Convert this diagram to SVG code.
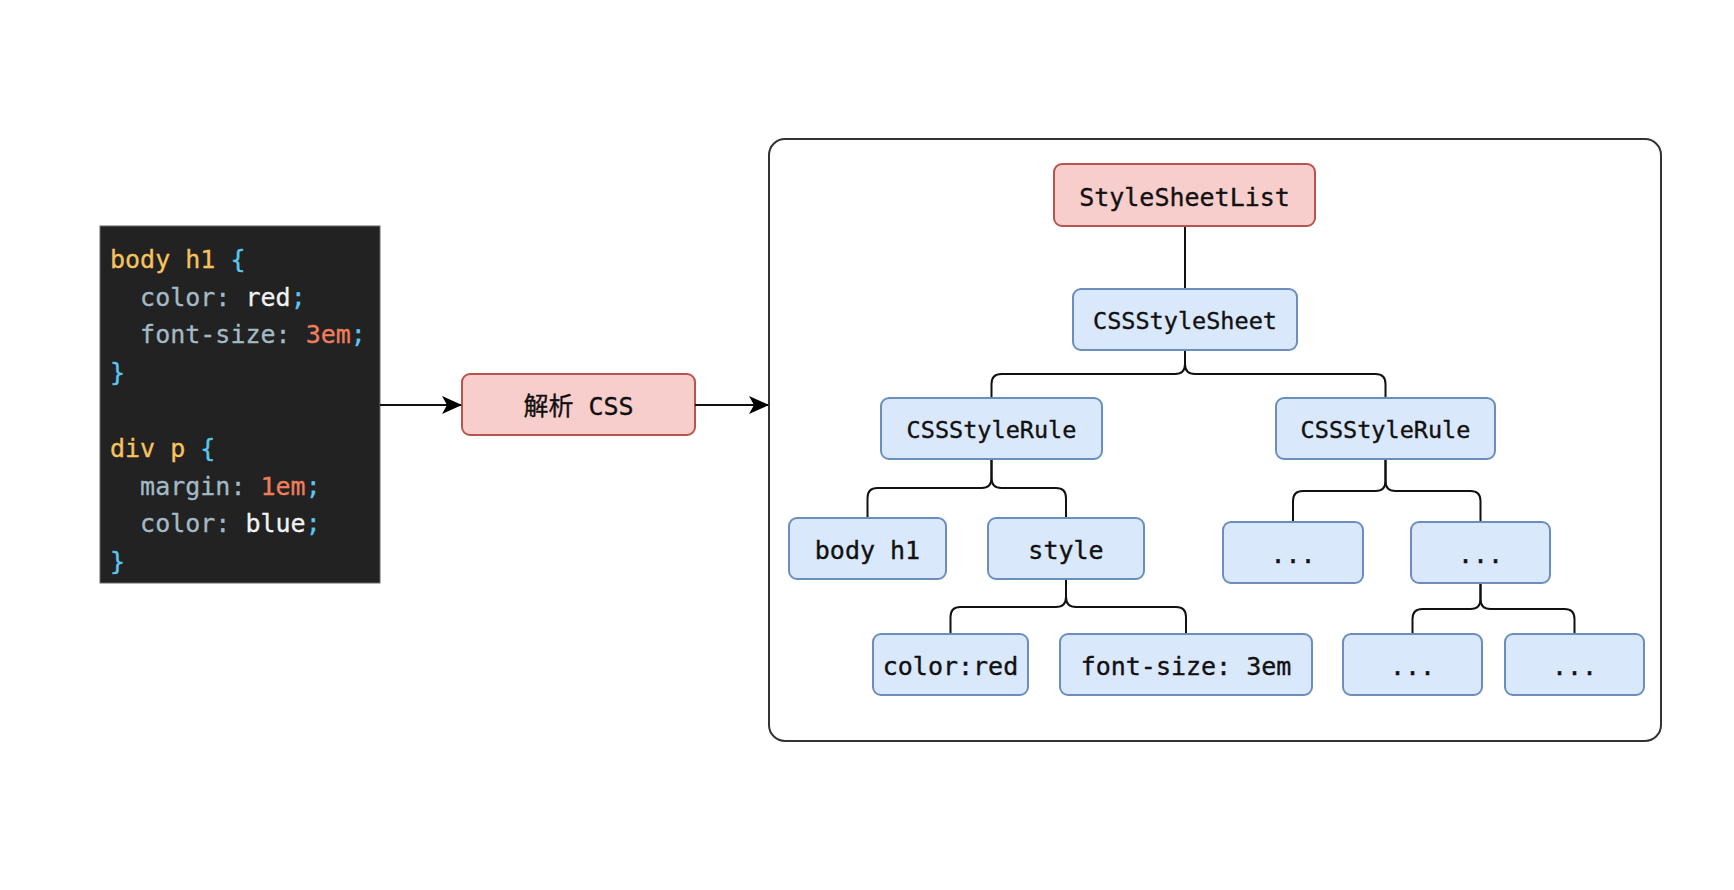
<svg xmlns="http://www.w3.org/2000/svg" width="1734" height="890" viewBox="0 0 1734 890">
<defs>
<marker id="arr" viewBox="0 0 20 18" refX="19" refY="9" markerWidth="20" markerHeight="18" markerUnits="userSpaceOnUse" orient="auto">
<path d="M0,0 L20,9 L0,18 L5,9 Z" fill="#000"/>
</marker>
<style>
.blue{fill:#dae8fc;stroke:#6c8ebf;stroke-width:2}
.red{fill:#f8cecc;stroke:#b85450;stroke-width:2}
.t{font-family:"DejaVu Sans Mono","Liberation Mono","Noto Sans CJK SC",monospace;fill:#111;stroke:#111;stroke-width:0.35;text-anchor:middle}
.t25{font-size:25px}
.t23{font-size:23.5px}
.code{font-family:"DejaVu Sans Mono","Liberation Mono",monospace;font-size:25px;white-space:pre;stroke-width:0.3}
.sel{fill:#f6c35f;stroke:#f6c35f}
.br{fill:#5cc6f0;stroke:#5cc6f0}
.prop{fill:#a3bac6;stroke:#a3bac6}
.val{fill:#f2f2f2;stroke:#f2f2f2}
.num{fill:#ee7e5c;stroke:#ee7e5c}
.edge{fill:none;stroke:#111;stroke-width:2}
</style>
</defs>
<rect width="1734" height="890" fill="#fff"/>

<g id="code">
<rect x="100" y="226" width="280" height="357" fill="#222222" stroke="#666" stroke-width="1"/>
<text class="code" x="110" y="268"><tspan class="sel">body h1 </tspan><tspan class="br">{</tspan></text>
<text class="code" x="110" y="306"><tspan class="prop">  color: </tspan><tspan class="val">red</tspan><tspan class="br">;</tspan></text>
<text class="code" x="110" y="343"><tspan class="prop">  font-size: </tspan><tspan class="num">3em</tspan><tspan class="br">;</tspan></text>
<text class="code br" x="110" y="381">}</text>
<text class="code" x="110" y="457"><tspan class="sel">div p </tspan><tspan class="br">{</tspan></text>
<text class="code" x="110" y="495"><tspan class="prop">  margin: </tspan><tspan class="num">1em</tspan><tspan class="br">;</tspan></text>
<text class="code" x="110" y="532"><tspan class="prop">  color: </tspan><tspan class="val">blue</tspan><tspan class="br">;</tspan></text>
<text class="code br" x="110" y="570">}</text>
</g>

<g id="parse">
<rect class="red" x="462" y="374" width="233" height="61" rx="8"/>
<text class="t t25" x="578.5" y="415">解析 CSS</text>
</g>

<g id="container">
<rect x="769" y="139" width="892" height="602" rx="16" fill="#fff" stroke="#333" stroke-width="2"/>
</g>

<g id="connectors">
<path class="edge" d="M380,405 H461" marker-end="url(#arr)"/>
<path class="edge" d="M695,405 H768" marker-end="url(#arr)"/>
<path class="edge" d="M1185,226 V289"/>
<path class="edge" d="M1185,350 V364 Q1185,374 1175,374 H1001.5 Q991.5,374 991.5,384 V398"/>
<path class="edge" d="M1185,350 V364 Q1185,374 1195,374 H1375.5 Q1385.5,374 1385.5,384 V398"/>
<path class="edge" d="M991.5,459 V478 Q991.5,488 981.5,488 H877.5 Q867.5,488 867.5,498 V518"/>
<path class="edge" d="M991.5,459 V478 Q991.5,488 1001.5,488 H1056 Q1066,488 1066,498 V518"/>
<path class="edge" d="M1385.5,459 V481 Q1385.5,491 1375.5,491 H1303 Q1293,491 1293,501 V522"/>
<path class="edge" d="M1385.5,459 V481 Q1385.5,491 1395.5,491 H1470.5 Q1480.5,491 1480.5,501 V522"/>
<path class="edge" d="M1066,579 V597 Q1066,607 1056,607 H960.5 Q950.5,607 950.5,617 V634"/>
<path class="edge" d="M1066,579 V597 Q1066,607 1076,607 H1176 Q1186,607 1186,617 V634"/>
<path class="edge" d="M1480.5,583 V599 Q1480.5,609 1470.5,609 H1422.5 Q1412.5,609 1412.5,619 V634"/>
<path class="edge" d="M1480.5,583 V599 Q1480.5,609 1490.5,609 H1564.5 Q1574.5,609 1574.5,619 V634"/>
</g>

<g id="n-stylesheetlist">
<rect class="red" x="1054" y="164" width="261" height="62" rx="8"/>
<text class="t t25" x="1184.5" y="206">StyleSheetList</text>
</g>
<g id="n-cssstylesheet">
<rect class="blue" x="1073" y="289" width="224" height="61" rx="8"/>
<text class="t t23" x="1185" y="329">CSSStyleSheet</text>
</g>
<g id="n-rule-left">
<rect class="blue" x="881" y="398" width="221" height="61" rx="8"/>
<text class="t t23" x="991.5" y="438">CSSStyleRule</text>
</g>
<g id="n-rule-right">
<rect class="blue" x="1276" y="398" width="219" height="61" rx="8"/>
<text class="t t23" x="1385.5" y="438">CSSStyleRule</text>
</g>
<g id="n-bodyh1">
<rect class="blue" x="789" y="518" width="157" height="61" rx="8"/>
<text class="t t25" x="867.5" y="559">body h1</text>
</g>
<g id="n-style">
<rect class="blue" x="988" y="518" width="156" height="61" rx="8"/>
<text class="t t25" x="1066" y="559">style</text>
</g>
<g id="n-dots1">
<rect class="blue" x="1223" y="522" width="140" height="61" rx="8"/>
<text class="t t25" x="1293" y="563">...</text>
</g>
<g id="n-dots2">
<rect class="blue" x="1411" y="522" width="139" height="61" rx="8"/>
<text class="t t25" x="1480.5" y="563">...</text>
</g>
<g id="n-colorred">
<rect class="blue" x="873" y="634" width="155" height="61" rx="8"/>
<text class="t t25" x="950.5" y="675">color:red</text>
</g>
<g id="n-fontsize">
<rect class="blue" x="1060" y="634" width="252" height="61" rx="8"/>
<text class="t t25" x="1186" y="675">font-size: 3em</text>
</g>
<g id="n-dots3">
<rect class="blue" x="1343" y="634" width="139" height="61" rx="8"/>
<text class="t t25" x="1412.5" y="675">...</text>
</g>
<g id="n-dots4">
<rect class="blue" x="1505" y="634" width="139" height="61" rx="8"/>
<text class="t t25" x="1574.5" y="675">...</text>
</g>
</svg>
